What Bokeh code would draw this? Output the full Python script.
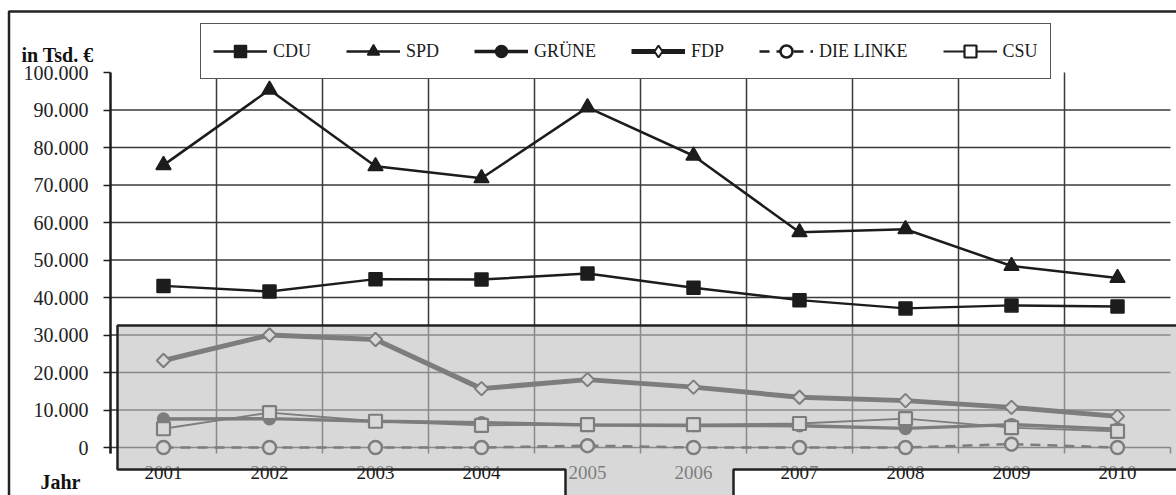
from bokeh.plotting import figure
from bokeh.models import (Range1d, FixedTicker, Legend, LegendItem, LinearAxis,
                          PolyAnnotation, Label)
from bokeh.embed import file_html
from bokeh.resources import INLINE

# ---- data (in EUR) ----
years = [2001, 2002, 2003, 2004, 2005, 2006, 2007, 2008, 2009, 2010]
cdu = [43100, 41600, 44900, 44800, 46400, 42600, 39300, 37100, 37900, 37600]
spd = [75300, 95400, 75000, 71800, 90700, 77800, 57400, 58200, 48400, 45200]
gruene = [7600, 7700, 7000, 6600, 6000, 5900, 5800, 5100, 6100, 4900]
fdp = [23200, 30000, 28800, 15700, 18100, 16100, 13400, 12500, 10700, 8300]
linke = [0, 0, 0, 0, 500, 0, 0, 0, 900, 0]
csu = [5000, 9300, 7000, 5900, 6100, 6100, 6400, 7700, 5300, 4300]

y_ticks = [0, 10000, 20000, 30000, 40000, 50000, 60000, 70000, 80000, 90000, 100000]
y_tick_labels = ["0", "10.000", "20.000", "30.000", "40.000", "50.000",
                 "60.000", "70.000", "80.000", "90.000", "100.000"]
y_title = "in Tsd. €"
x_title = "Jahr"

INK = "#1c1c1c"
GRID = "#3a3a3a"
SERIF = "Liberation Serif"
W, H = 1176, 495

# scale layout: plot area x from 110px to 1170px (10 categories), y: 0 at 447px, 100.000 at 72px
PX_PER_YEAR = 106.0
X_LEFT = years[0] - 0.5
X_RIGHT = years[-1] + 0.5
Y_PER_PX = 100000 / 375.0
TICK_DOWN = -6 * Y_PER_PX

p = figure(x_range=Range1d(X_LEFT - 110 / PX_PER_YEAR, X_LEFT + (W - 110) / PX_PER_YEAR),
           y_range=Range1d(-(H - 447) * Y_PER_PX, 100000 + 72 * Y_PER_PX),
           width=W, height=H, output_backend="svg", toolbar_location=None,
           x_axis_type=None, y_axis_type=None,
           min_border=0, min_border_left=0, min_border_right=0,
           min_border_top=0, min_border_bottom=0)
p.outline_line_color = None
p.background_fill_color = "white"
p.border_fill_color = "white"

# grid lines (horizontal: value ticks below the top; vertical: between categories)
grid_y = y_ticks[:-1]
p.segment(x0=[X_LEFT] * len(grid_y), x1=[X_RIGHT] * len(grid_y), y0=grid_y, y1=grid_y,
          line_color=GRID, line_width=1.5)
bounds_x = [y - 0.5 for y in years] + [X_RIGHT]
inner_x = bounds_x[1:-1]
p.segment(x0=inner_x, x1=inner_x, y0=[0] * len(inner_x), y1=[y_ticks[-1]] * len(inner_x),
          line_color=GRID, line_width=1.5)
# category tick marks below the zero line
p.segment(x0=bounds_x, x1=bounds_x, y0=[TICK_DOWN] * len(bounds_x), y1=[0] * len(bounds_x),
          line_color=GRID, line_width=1.5)

# y axis drawn at the left edge of the plot area
yaxis = LinearAxis(fixed_location=X_LEFT, bounds=(TICK_DOWN, y_ticks[-1]),
                   ticker=FixedTicker(ticks=y_ticks),
                   major_label_overrides={t: l for t, l in zip(y_ticks, y_tick_labels)})
yaxis.axis_line_color = INK
yaxis.axis_line_width = 2.5
yaxis.major_tick_line_color = INK
yaxis.major_tick_line_width = 1.5
yaxis.major_tick_out = 7
yaxis.major_tick_in = 0
yaxis.minor_tick_line_color = None
yaxis.major_label_standoff = 15
yaxis.major_label_text_font = SERIF
yaxis.major_label_text_font_size = "20px"
yaxis.major_label_text_color = "#222222"
p.add_layout(yaxis, "left")

# x axis (category labels)
xaxis = LinearAxis(fixed_location=TICK_DOWN, ticker=FixedTicker(ticks=years))
xaxis.axis_line_color = None
xaxis.major_tick_line_color = None
xaxis.major_tick_out = 0
xaxis.major_tick_in = 0
xaxis.minor_tick_line_color = None
xaxis.major_label_standoff = 12
xaxis.major_label_text_font = SERIF
xaxis.major_label_text_font_size = "19px"
xaxis.major_label_text_color = "#1a1a1a"
p.add_layout(xaxis, "below")

# name, values, marker, line width, marker fill, dash, size, marker line width, angle, legend marker
series = [
    ("CDU", cdu, "square", 2.5, INK, None, 13, 1.5, 0.0, "square"),
    ("SPD", spd, "triangle", 2.5, INK, None, 15, 1.5, 0.0, "triangle"),
    ("GRÜNE", gruene, "circle", 3.5, INK, None, 12, 1.5, 0.0, "circle"),
    ("FDP", fdp, "square", 5.0, "white", None, 9.5, 2.0, 0.785398, "diamond"),
    ("DIE LINKE", linke, "circle", 2.5, "white", "10 7", 13, 2.5, 0.0, "circle"),
    ("CSU", csu, "square", 1.8, "white", None, 13, 2.2, 0.0, "square"),
]

items = []
for name, vals, marker, lw, fill, dash, size, mlw, ang, lmarker in series:
    kw = {}
    if dash:
        kw["line_dash"] = dash
    rl = p.line(years, vals, line_color=INK, line_width=lw, **kw)
    rm = p.scatter(years, vals, marker=marker, size=size, angle=ang, fill_color=fill,
                   line_color=INK, line_width=mlw)
    if lmarker != marker:
        # legend-only symbol (no visible data points)
        rm = p.scatter(x=[years[0]], y=[float("nan")], marker=lmarker, size=size,
                       fill_color=fill, line_color=INK, line_width=mlw)
    items.append(LegendItem(label=name, renderers=[rl, rm]))

legend = Legend(items=items, orientation="horizontal", location=(200, H - 79),
                padding=12, spacing=35, glyph_width=54, glyph_height=30,
                label_height=20, label_standoff=6,
                label_text_font=SERIF, label_text_font_size="18px",
                label_text_color="#1a1a1a",
                border_line_color="#555555", border_line_width=1.5, border_line_alpha=1.0,
                background_fill_color="white", background_fill_alpha=1.0,
                margin=0)
p.add_layout(legend)

# axis titles
p.add_layout(Label(x=21, y=54, x_units="canvas", y_units="canvas", text=y_title,
                   text_font=SERIF, text_font_style="bold", text_font_size="20px",
                   text_color="#111111", text_baseline="alphabetic"))
p.add_layout(Label(x=40, y=481, x_units="canvas", y_units="canvas", text=x_title,
                   text_font=SERIF, text_font_style="bold", text_font_size="20px",
                   text_color="#111111", text_baseline="alphabetic"))

# highlighted (dimmed) lower region with a tab
p.add_layout(PolyAnnotation(xs=[117, 1185, 1185, 733, 733, 565, 565, 117],
                            ys=[325, 325, 469, 469, 505, 505, 469, 469],
                            xs_units="canvas", ys_units="canvas",
                            fill_color=(190, 190, 190), fill_alpha=0.6,
                            line_color="#222222", line_width=2.5, line_alpha=1.0,
                            level="overlay"))

# outer frame
p.add_layout(PolyAnnotation(xs=[8.5, 8.5, 1400, 1400], ys=[11, 700, 700, 11],
                            xs_units="canvas", ys_units="canvas",
                            fill_alpha=0.0, line_color="#222222", line_width=2.5,
                            line_alpha=1.0, level="overlay"))

open("out.html", "w").write(file_html(p, INLINE))
